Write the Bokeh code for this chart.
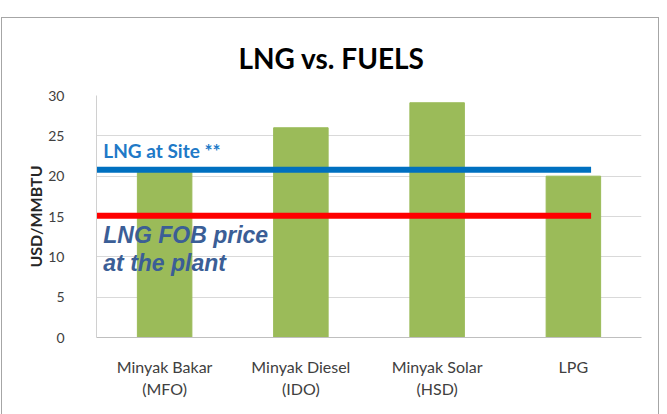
from bokeh.plotting import figure
from bokeh.models import Label, FactorRange, Title
from bokeh.embed import file_html
from bokeh.resources import INLINE

# Fuel prices in USD/MMBTU
categories = ["Minyak Bakar\n(MFO)", "Minyak Diesel\n(IDO)", "Minyak Solar\n(HSD)", "LPG"]
prices = [20.6, 26.0, 29.1, 20.0]

# LNG reference prices
lng_at_site = 20.8
lng_fob = 15.1
y_ticks = [0, 5, 10, 15, 20, 25, 30]

p = figure(
    x_range=FactorRange(*categories, range_padding=0),
    y_range=(0, 30),
    width=658, height=397,
    output_backend="svg", toolbar_location=None,
    min_border_left=94, min_border_right=19,
    min_border_top=77, min_border_bottom=78,
    margin=(17, 0, 0, 1),
    styles={"border-top": "1px solid #a6a6a6",
            "border-left": "1px solid #a6a6a6",
            "border-right": "1px solid #a6a6a6",
            "background-color": "white"},
)
p.outline_line_color = None
p.background_fill_color = "white"
p.border_fill_color = None

p.vbar(x=categories, top=prices, width=0.4, color="#9BBB59")

# LNG price lines across the chart
p.line(x=[0, 3.63], y=[lng_at_site, lng_at_site], line_color="#0070C0", line_width=6)
p.line(x=[0, 3.63], y=[lng_fob, lng_fob], line_color="#FF0000", line_width=6)

p.add_layout(Label(x=0.05, y=lng_at_site, text="LNG at Site **", text_font="Lato",
                   text_font_style="bold", text_font_size="19px", text_color="#2079C7",
                   y_offset=8, text_baseline="bottom"))
p.add_layout(Label(x=0.05, y=lng_fob, text="LNG FOB price\nat the plant",
                   text_font="Liberation Sans", text_font_style="bold italic",
                   text_font_size="23px", text_color="#3B5E96",
                   y_offset=-6, text_baseline="top", text_line_height=1.08))

# Chart title, placed left of the frame centre so it sits over the whole chart
p.add_layout(Title(text="LNG vs. FUELS", align="left", offset=142, standoff=41,
                   text_font="Lato", text_font_style="bold", text_font_size="28px",
                   text_color="#000000"), "above")

# Axes
p.yaxis.ticker = y_ticks
p.yaxis.axis_label = "USD/MMBTU"
p.yaxis.axis_label_text_font = "Lato"
p.yaxis.axis_label_text_font_style = "bold"
p.yaxis.axis_label_text_font_size = "16px"
p.yaxis.axis_label_text_color = "#262626"
p.yaxis.axis_label_standoff = 0
p.yaxis.major_label_text_font = "Lato"
p.yaxis.major_label_text_font_size = "14px"
p.yaxis.major_label_text_color = "#404040"
p.yaxis.major_label_standoff = 26
p.yaxis.major_tick_line_color = None
p.yaxis.minor_tick_line_color = None
p.yaxis.axis_line_color = "#d0d0d0"

p.xaxis.major_label_text_font = "Lato"
p.xaxis.major_label_text_font_size = "16px"
p.xaxis.major_label_text_color = "#404040"
p.xaxis.major_label_standoff = 13
p.xaxis.major_tick_line_color = None
p.xaxis.axis_line_color = "#bfbfbf"

p.xgrid.grid_line_color = None
p.ygrid.grid_line_color = "#d9d9d9"

open("out.html", "w").write(file_html(p, INLINE))
